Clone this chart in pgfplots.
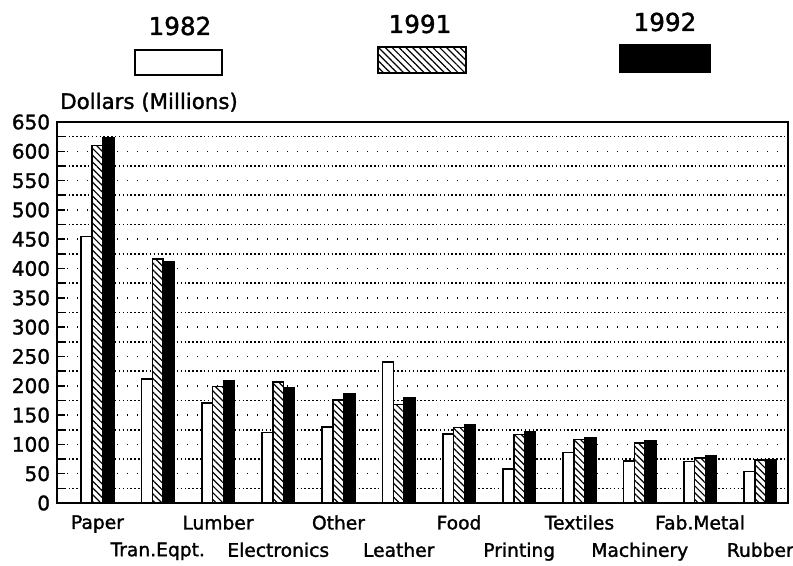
\documentclass[border=0pt]{standalone}
\usepackage{pgfplots}
\pgfplotsset{compat=1.18}
\usepackage{fontspec}
\setmainfont{DejaVu Sans}[FakeBold=1.5]
\newfontfamily\hv{DejaVu Sans}[FakeBold=1.5]
\usetikzlibrary{patterns.meta}

\begin{document}
\begin{tikzpicture}
\path[use as bounding box] (0,0) rectangle (594.75pt,423.75pt);
\begin{axis}[
  at={(42.75pt,46.5pt)}, anchor=south west,
  scale only axis, width=548.25pt, height=285.75pt,
  xmin=-0.672, xmax=11.46, ymin=0, ymax=650,
  ybar, bar width=0.18,
  axis line style={line width=1.5pt},
  xtick={0,2,4,6,8,10},
  xticklabels={Paper,Lumber,Other,Food,Textiles,Fab.Metal},
  extra x ticks={1,3,5,7,9,11},
  extra x tick labels={Tran.Eqpt.,Electronics,Leather,Printing,Machinery,Rubber},
  extra x tick style={major tick length=0pt, tick label style={yshift=-20.5pt}},
  x tick label style={font=\hv\fontsize{14pt}{16pt}\selectfont, inner sep=0pt, yshift=-9pt},
  xtick style={draw=none},
  ytick={0,50,...,650},
  minor ytick={25,75,...,625},
  ytick pos=left,
  tick align=inside,
  major tick length=6pt, minor tick length=6pt,
  ytick style={line width=1.2pt, black},
  minor tick style={line width=1.2pt, black},
  y tick label style={font=\hv\fontsize{15pt}{17pt}\selectfont, inner sep=0pt, xshift=-5pt},
  /pgf/number format/assume math mode=true,
  ymajorgrids, yminorgrids,
  major grid style={black, line width=1.2pt, dash pattern=on 1.1pt off 6.4pt},
  minor grid style={black, line width=1.2pt, dash pattern=on 1.1pt off 1.8pt},
]
\addplot[bar shift=-0.18, draw=black, line width=1.2pt, fill=white]
  coordinates {(0,455) (1,212) (2,171) (3,120) (4,130) (5,241) (6,118) (7,58) (8,86) (9,72) (10,71) (11,54)};
\addplot[bar shift=0, draw=black, line width=1.2pt, fill=white,
  postaction={pattern={Lines[angle=-45,distance=3.6pt,line width=0.9pt]}}]
  coordinates {(0,610) (1,416) (2,199) (3,206) (4,176) (5,168) (6,129) (7,117) (8,108) (9,102) (10,77) (11,73)};
\addplot[bar shift=0.18, draw=black, line width=1.2pt, fill=black]
  coordinates {(0,623) (1,412) (2,208) (3,197) (4,186) (5,179) (6,133) (7,121) (8,111) (9,106) (10,81) (11,74)};
\end{axis}
% y axis title
\node[anchor=south west, inner sep=0pt, font=\hv\fontsize{16pt}{18pt}\selectfont] at (45pt,339.75pt) {Dollars (Millions)};
% legend
\draw[line width=1.2pt, fill=white] (101.25pt,367.5pt) rectangle (166.5pt,386.25pt);
\draw[line width=1.2pt, fill=white, postaction={pattern={Lines[angle=-45,distance=3.6pt,line width=0.9pt]}}] (283.5pt,369pt) rectangle (349.5pt,388.5pt);
\draw[line width=1.2pt, fill=black] (465pt,369.75pt) rectangle (532.5pt,390pt);
\node[font=\hv\fontsize{18.5pt}{20pt}\selectfont, inner sep=0pt] at (135pt,404.25pt) {1982};
\node[font=\hv\fontsize{18.5pt}{20pt}\selectfont, inner sep=0pt] at (315pt,405.75pt) {1991};
\node[font=\hv\fontsize{18.5pt}{20pt}\selectfont, inner sep=0pt] at (498.75pt,407.25pt) {1992};
\end{tikzpicture}
\end{document}
